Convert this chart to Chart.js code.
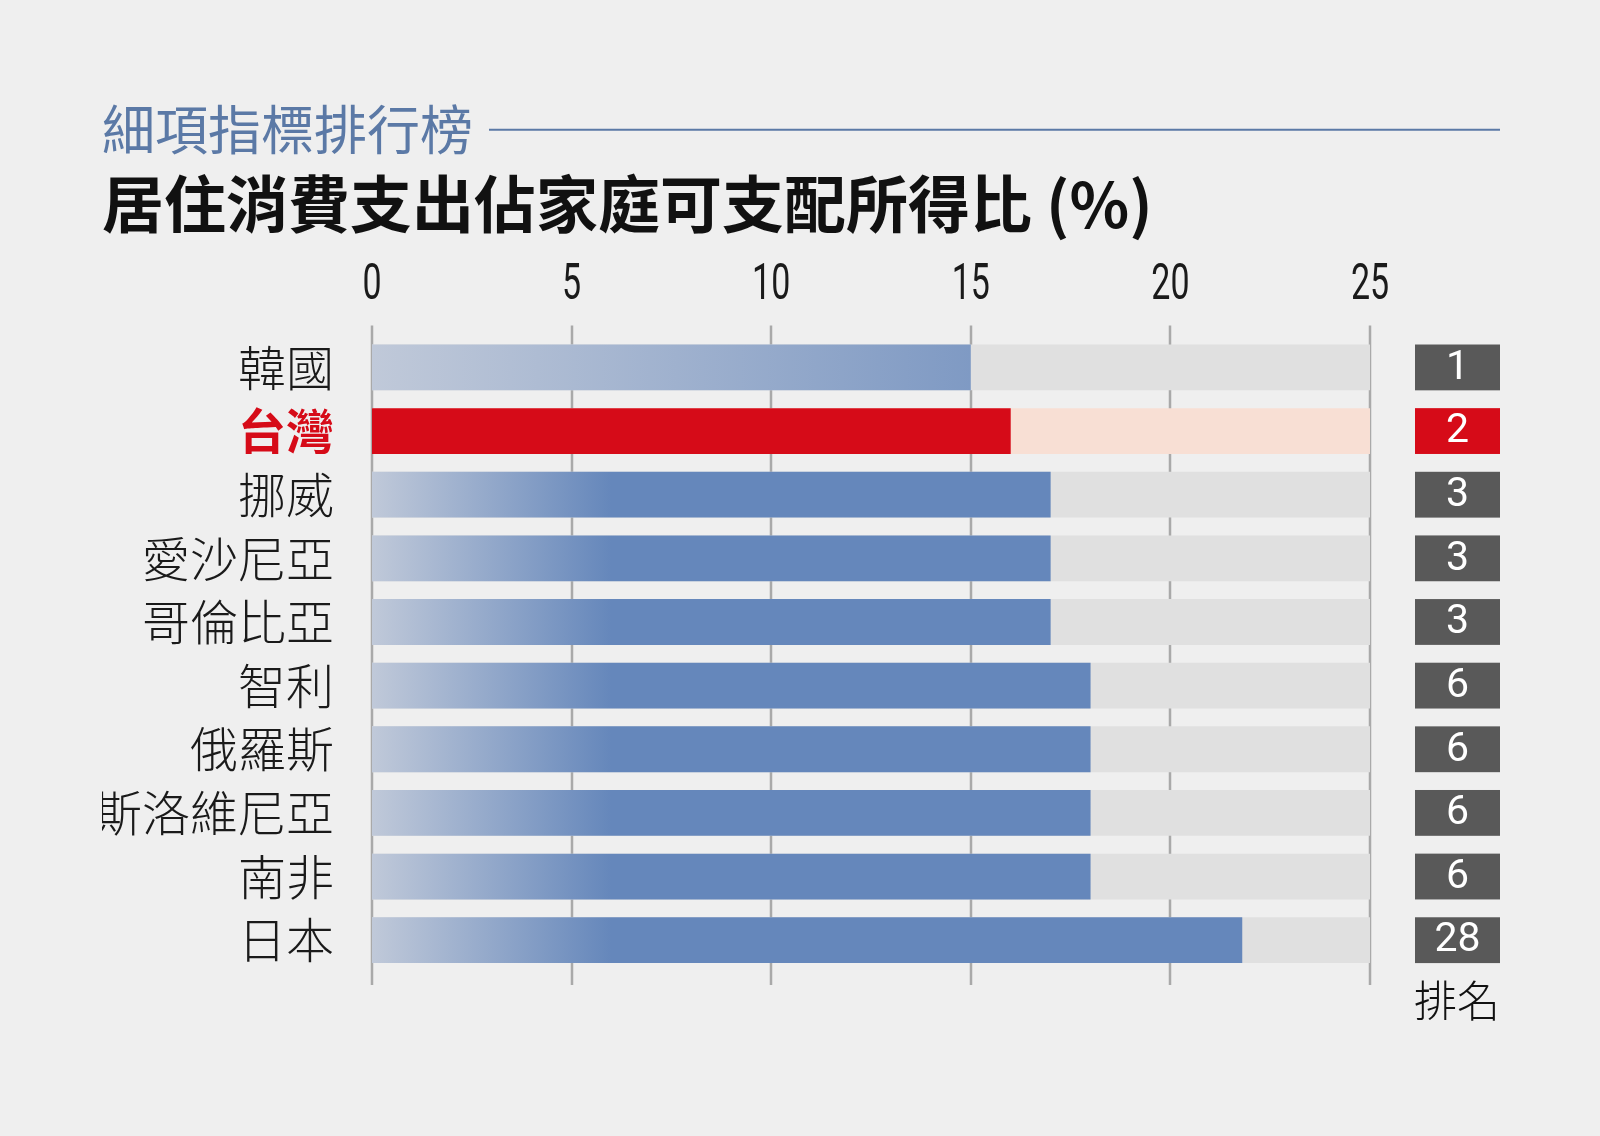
<!DOCTYPE html>
<html lang="zh-Hant">
<head>
<meta charset="utf-8">
<title>居住消費支出佔家庭可支配所得比</title>
<script src="https://cdn.jsdelivr.net/npm/chart.js@4.4.1/dist/chart.umd.min.js"></script>
<style>
  html, body { margin: 0; padding: 0; background: #efefef; }
  #chart { display: block; }
</style>
</head>
<body>
<canvas id="chart" width="1600" height="1136"></canvas>
<script>
// data
const countries = ['韓國', '台灣', '挪威', '愛沙尼亞', '哥倫比亞', '智利', '俄羅斯', '斯洛維尼亞', '南非', '日本'];
const shares = [15, 16, 17, 17, 17, 18, 18, 18, 18, 21.8];
const ranks = [1, 2, 3, 3, 3, 6, 6, 6, 6, 28];
const fullScale = [25, 25, 25, 25, 25, 25, 25, 25, 25, 25];
const xTicks = [0, 5, 10, 15, 20, 25];
const highlight = 1; // 台灣

const CJK = '"Noto Sans CJK TC", "Noto Sans CJK SC", sans-serif';
const BLUE_TEXT = '#5b79a6';

// grid lines run a little past the bars, so draw them ourselves
const gridPlugin = {
    id: 'longGrid',
    beforeDatasetsDraw(chart) {
        const { ctx, chartArea } = chart;
        const x = chart.scales.x;
        ctx.save();
        ctx.strokeStyle = '#a9a9a9';
        ctx.lineWidth = 2.5;
        xTicks.forEach(v => {
            const px = Math.round(x.getPixelForValue(v));
            ctx.beginPath();
            ctx.moveTo(px, chartArea.top - 10);
            ctx.lineTo(px, chartArea.bottom + 13);
            ctx.stroke();
        });
        ctx.restore();
    }
};

// narrow tick numbers, rank boxes on the right, rule next to the small heading
const extrasPlugin = {
    id: 'extras',
    afterDatasetsDraw(chart) {
        const { ctx, chartArea } = chart;
        const x = chart.scales.x;
        ctx.save();
        ctx.fillStyle = '#1a1a1a';
        ctx.font = '50px Roboto, "Liberation Sans", sans-serif';
        ctx.textAlign = 'center';
        ctx.textBaseline = 'middle';
        x.ticks.forEach(t => {
            ctx.save();
            ctx.translate(x.getPixelForValue(t.value), chartArea.top - 49);
            ctx.scale(0.68, 1);
            ctx.fillText(String(t.value), 0, 0);
            ctx.restore();
        });

        const bars = chart.getDatasetMeta(0).data;
        bars.forEach((bar, i) => {
            const h = bar.height;
            const left = chartArea.right + 45;
            ctx.fillStyle = i === highlight ? '#d60b18' : '#595959';
            ctx.fillRect(left, bar.y - h / 2, 85, h);
            ctx.fillStyle = '#ffffff';
            ctx.font = '41px Roboto, "Liberation Sans", sans-serif';
            ctx.fillText(String(ranks[i]), left + 42.5, bar.y + 1);
        });
        ctx.fillStyle = '#111111';
        ctx.font = '300 43px ' + CJK;
        ctx.fillText('排名', chartArea.right + 87, chartArea.bottom + 29);

        const tb = chart.titleBlock;
        const t = chart.options.plugins.title;
        ctx.font = t.font.size + 'px ' + CJK;
        const w = ctx.measureText(t.text).width;
        const y = tb.top + t.padding.top + t.font.size * 1.2 / 2;
        ctx.strokeStyle = BLUE_TEXT;
        ctx.lineWidth = 2;
        ctx.beginPath();
        ctx.moveTo(tb.left + w + 16, y);
        ctx.lineTo(1500, y);
        ctx.stroke();
        ctx.restore();
    }
};

function barFill(c) {
    const chart = c.chart;
    if (c.dataIndex === highlight) return '#d60b18';
    if (!chart.chartArea) return '#6587bb';
    const x = chart.scales.x;
    const end = c.dataIndex === 0 ? 21 : 6;
    const g = chart.ctx.createLinearGradient(x.getPixelForValue(0), 0, x.getPixelForValue(end), 0);
    g.addColorStop(0, '#c0c9d9');
    g.addColorStop(1, '#6587bb');
    return g;
}

const ctx = document.getElementById('chart').getContext('2d');
const myChart = new Chart(ctx, {
    type: 'bar',
    data: {
        labels: countries,
        datasets: [{
            label: '居住消費支出佔比',
            data: shares,
            backgroundColor: barFill,
            order: 0
        }, {
            label: 'scale',
            data: fullScale,
            backgroundColor: countries.map((_, i) => i === highlight ? '#f8dfd4' : '#e0e0e0'),
            order: 1
        }]
    },
    plugins: [gridPlugin, extrasPlugin],
    options: {
        indexAxis: 'y',
        responsive: false,
        animation: false,
        devicePixelRatio: 1,
        layout: { padding: { left: 102, right: 230, top: 0, bottom: 164 } },
        datasets: {
            bar: { grouped: false, barPercentage: 0.72, categoryPercentage: 1, borderWidth: 0 }
        },
        scales: {
            x: {
                position: 'top',
                min: 0,
                max: 25,
                afterFit(scale) { scale.height -= 25; },
                ticks: {
                    stepSize: 5,
                    padding: 25,
                    color: 'rgba(0,0,0,0)',
                    font: { family: 'Roboto', size: 48 }
                },
                grid: { display: false, drawTicks: false },
                border: { display: false }
            },
            y: {
                type: 'category',
                offset: true,
                afterFit(scale) { scale.width = 270; },
                ticks: {
                    padding: 38,
                    color: c => c.index === highlight ? '#d60b18' : '#1a1a1a',
                    font: c => ({ family: CJK, size: 48, weight: c.index === highlight ? 'bold' : '300' })
                },
                grid: { display: false, drawTicks: false },
                border: { display: false }
            }
        },
        plugins: {
            legend: { display: false },
            tooltip: { enabled: false },
            title: {
                display: true,
                text: '細項指標排行榜',
                align: 'start',
                color: BLUE_TEXT,
                font: { family: CJK, size: 53, weight: 'normal', lineHeight: 1.2 },
                padding: { top: 98, bottom: 0 }
            },
            subtitle: {
                display: true,
                text: '居住消費支出佔家庭可支配所得比 (%)',
                align: 'start',
                color: '#111111',
                font: { family: CJK, size: 62, weight: 'bold', lineHeight: 1.2 },
                padding: { top: 6, bottom: 11 }
            }
        }
    }
});
</script>
</body>
</html>
